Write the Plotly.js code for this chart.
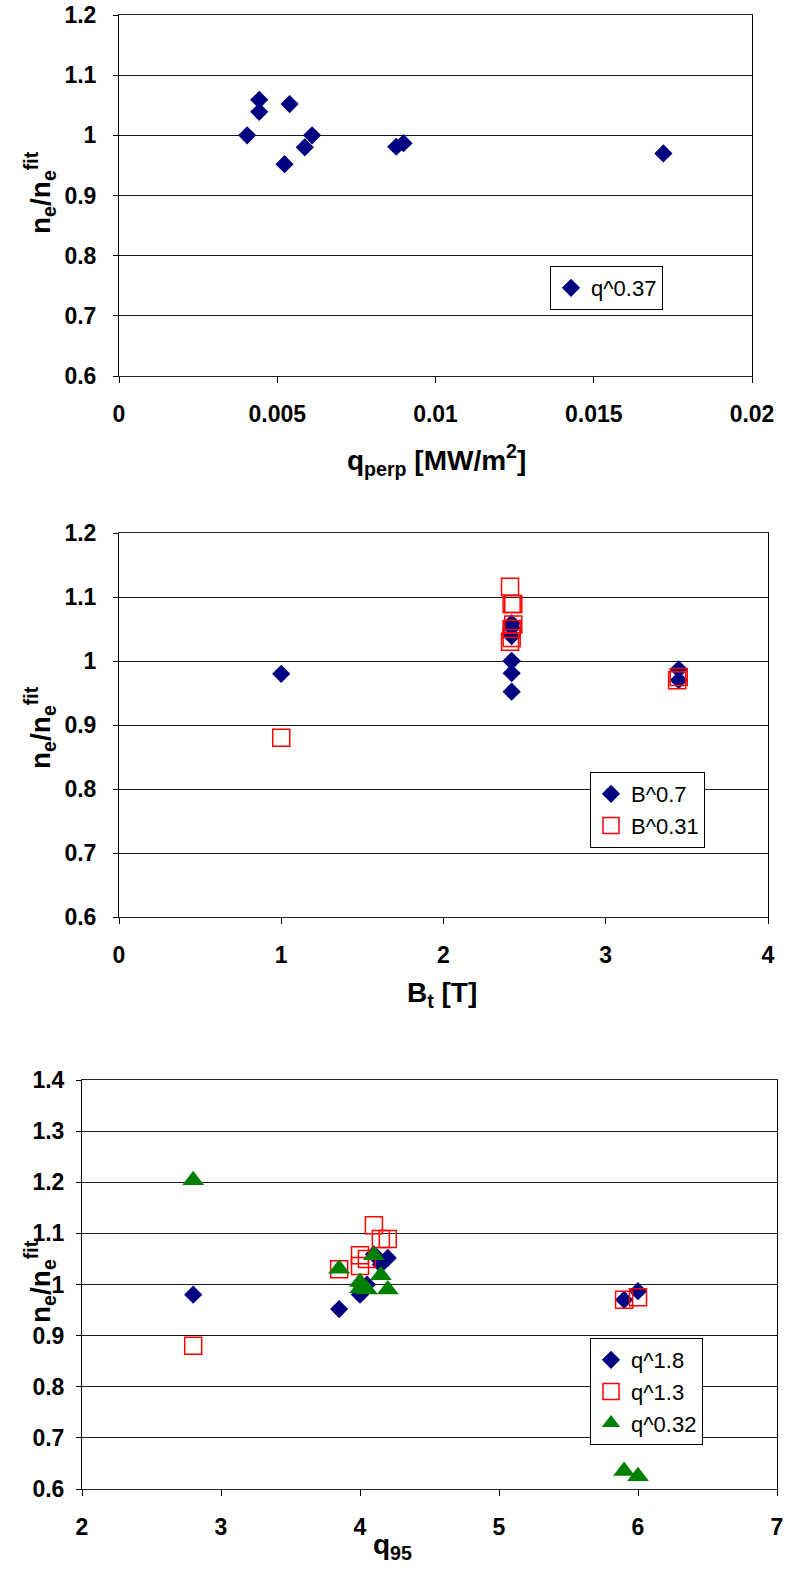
<!DOCTYPE html>
<html>
<head>
<meta charset="utf-8">
<script src="https://cdn.plot.ly/plotly-3.0.1.min.js"></script>
<style>
html,body{margin:0;padding:0;background:#fff;}
#chart{width:785px;height:1572px;}
</style>
</head>
<body>
<div id="chart"></div>
<script>
// ---- Chart 1: n_e/n_e^fit vs q_perp ----
const qPerp = [0.00405, 0.00443, 0.00443, 0.00539, 0.00523, 0.00587, 0.00610, 0.00876, 0.00899, 0.01720];
const ratioQ037 = [1.000, 1.059, 1.039, 1.052, 0.952, 0.980, 1.000, 0.981, 0.987, 0.970];

// ---- Chart 2: n_e/n_e^fit vs B_t ----
const btDiamond = [1.0, 2.42, 2.42, 2.42, 2.42, 2.42, 2.42, 2.42, 3.45, 3.45];
const ratioB07 = [0.980, 1.000, 1.059, 1.039, 1.052, 0.952, 0.981, 1.000, 0.970, 0.987];
const btSquare = [1.0, 2.41, 2.43, 2.42, 2.43, 2.42, 2.42, 2.41, 3.44, 3.45];
const ratioB031 = [0.880, 1.116, 1.089, 1.089, 1.057, 1.050, 1.036, 1.030, 0.970, 0.975];

// ---- Chart 3: n_e/n_e^fit vs q_95 ----
const q95Diamond = [2.8, 3.85, 4.0, 4.0, 4.05, 4.1, 4.15, 4.2, 5.9, 6.0];
const ratioQ18 = [0.980, 0.952, 0.980, 1.000, 1.000, 1.059, 1.039, 1.052, 0.970, 0.987];
const q95Square = [2.8, 3.85, 4.0, 4.0, 4.05, 4.1, 4.15, 4.2, 5.9, 6.0];
const ratioQ13 = [0.880, 1.030, 1.057, 1.036, 1.050, 1.116, 1.089, 1.089, 0.970, 0.975];
const q95Triangle = [2.8, 3.85, 4.0, 4.0, 4.05, 4.1, 4.15, 4.2, 5.9, 6.0];
const ratioQ032 = [1.204, 1.031, 1.005, 0.992, 0.990, 1.057, 1.018, 0.990, 0.635, 0.625];

// ---- labels ----
const seriesNames1 = ['q^0.37'];
const seriesNames2 = ['B^0.7', 'B^0.31'];
const seriesNames3 = ['q^1.8', 'q^1.3', 'q^0.32'];
const yTitle = 'n<sub>e</sub>/n<sub>e</sub><sup>fit</sup>';
const xTitle1 = 'q<sub>perp</sub> [MW/m<sup>2</sup>]';
const xTitle2 = 'B<sub>t</sub> [T]';
const xTitle3 = 'q<sub>95</sub>';

const W = 785, H = 1572;
const px = v => v / W;
const py = v => 1 - v / H;

const NAVY = '#000080', RED = '#FF0000', GREEN = '#008000';
const FONT = 'Liberation Sans, Arial, Helvetica, sans-serif';

const diamondMarker = {symbol: 'diamond', size: 14, color: NAVY};
const squareMarker = {symbol: 'square-open', size: 17, color: RED, line: {color: RED, width: 1.5}};
const triMarker = {symbol: 'triangle-up', size: 19, color: GREEN};

const traces = [
  {type: 'scatter', mode: 'markers', x: qPerp, y: ratioQ037, name: seriesNames1[0],
   marker: diamondMarker, xaxis: 'x', yaxis: 'y', legend: 'legend'},
  {type: 'scatter', mode: 'markers', x: btDiamond, y: ratioB07, name: seriesNames2[0],
   marker: diamondMarker, xaxis: 'x2', yaxis: 'y2', legend: 'legend2'},
  {type: 'scatter', mode: 'markers', x: btSquare, y: ratioB031, name: seriesNames2[1],
   marker: squareMarker, xaxis: 'x2', yaxis: 'y2', legend: 'legend2'},
  {type: 'scatter', mode: 'markers', x: q95Diamond, y: ratioQ18, name: seriesNames3[0],
   marker: diamondMarker, xaxis: 'x3', yaxis: 'y3', legend: 'legend3'},
  {type: 'scatter', mode: 'markers', x: q95Square, y: ratioQ13, name: seriesNames3[1],
   marker: squareMarker, xaxis: 'x3', yaxis: 'y3', legend: 'legend3'},
  {type: 'scatter', mode: 'markers', x: q95Triangle, y: ratioQ032, name: seriesNames3[2],
   marker: triMarker, xaxis: 'x3', yaxis: 'y3', legend: 'legend3'}
];

const tickFont = {family: FONT, size: 23, weight: 'bold', color: '#000'};
function xAx(domain, anchor, range, dtick) {
  return {domain: domain, anchor: anchor, range: range, dtick: dtick, tick0: range[0],
    showgrid: false, zeroline: false, showline: true, linecolor: '#222', linewidth: 1, mirror: true,
    ticks: 'outside', ticklen: 6, tickcolor: '#000', tickwidth: 1,
    tickfont: tickFont, ticklabelstandoff: 11, ticklabeloverflow: 'allow', fixedrange: true};
}
function yAx(domain, anchor, range, standoff) {
  return {domain: domain, anchor: anchor, range: range, dtick: 0.1, tick0: 0.6,
    showgrid: true, gridcolor: '#1a1a1a', gridwidth: 1, zeroline: false,
    showline: true, linecolor: '#000', linewidth: 1, mirror: true,
    ticks: 'outside', ticklen: 5, tickcolor: '#000', tickwidth: 1,
    tickfont: tickFont, ticklabelstandoff: standoff, fixedrange: true};
}
function legendBox(x, y) {
  return {x: x, y: y, xref: 'paper', yref: 'paper', xanchor: 'left', yanchor: 'top',
    bgcolor: '#fff', bordercolor: '#000', borderwidth: 1,
    font: {family: FONT, size: 22, color: '#000'}, itemwidth: 30, tracegroupgap: 0};
}
const titleFont = {family: FONT, size: 28, weight: 'bold', color: '#000'};
function ann(text, x, y, angle) {
  return {text: text, xref: 'paper', yref: 'paper', x: px(x), y: py(y), xanchor: 'center', yanchor: 'middle',
    showarrow: false, textangle: angle || 0, font: titleFont};
}

const layout = {
  width: W, height: H,
  margin: {l: 0, r: 0, t: 0, b: 0},
  paper_bgcolor: '#fff', plot_bgcolor: '#fff',
  font: {family: FONT, color: '#000'},
  showlegend: true,
  xaxis: xAx([px(119), px(752)], 'y', [0, 0.02], 0.005),
  yaxis: yAx([py(376), py(15)], 'x', [0.6, 1.2], 12),
  xaxis2: xAx([px(119), px(768)], 'y2', [0, 4], 1),
  yaxis2: yAx([py(917), py(533)], 'x2', [0.6, 1.2], 12),
  xaxis3: xAx([px(82), px(777)], 'y3', [2, 7], 1),
  yaxis3: yAx([py(1489), py(1080)], 'x3', [0.6, 1.4], 7),
  legend: legendBox(px(550), py(266)),
  legend2: legendBox(px(590), py(772)),
  legend3: legendBox(px(590), py(1338)),
  annotations: [
    ann(yTitle, 40, 193, -90),
    ann(xTitle1, 436, 460),
    ann(yTitle, 40, 728, -90),
    ann(xTitle2, 442, 995),
    ann(yTitle, 40, 1282, -90),
    ann(xTitle3, 392, 1546)
  ]
};

Plotly.newPlot('chart', traces, layout, {displayModeBar: false, staticPlot: true});
</script>
</body>
</html>
